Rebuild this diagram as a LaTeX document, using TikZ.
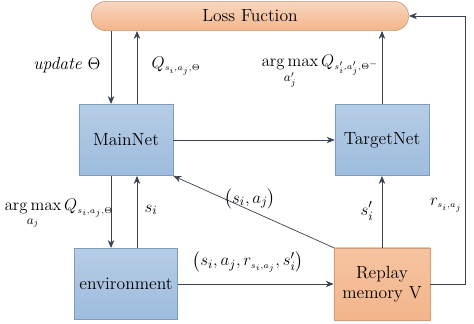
\documentclass[tikz,border=0pt]{standalone}
\usepackage{amsmath}
\usetikzlibrary{arrows.meta, positioning}
\definecolor{netblue}{HTML}{9DBCDD}
\definecolor{netedge}{HTML}{7E9DBE}
\definecolor{memorange}{HTML}{F3B58A}
\definecolor{memedge}{HTML}{D39C76}
\definecolor{linegray}{HTML}{39424E}
\newcommand{\tinysub}[1]{{\scriptscriptstyle #1}}

\begin{document}
\begin{tikzpicture}[
  x=0.025cm, y=-0.025cm,
  font=\fontsize{12.5}{14}\selectfont,
  net/.style={rectangle, draw=netedge, top color=netblue!75, bottom color=netblue, minimum width=2.35cm, minimum height=1.78cm, align=center},
  mem/.style={rectangle, draw=memedge, top color=memorange!80, bottom color=memorange, minimum width=2.4cm, minimum height=1.8cm, align=center},
  loss/.style={rectangle, draw=memedge!80!gray, top color=memorange!55, bottom color=memorange, rounded corners=0.36cm, minimum width=7.93cm, minimum height=0.73cm},
  arrow/.style={-{Stealth[length=2mm, width=1.6mm]}, linegray, line width=0.5pt},
  lab/.style={inner sep=1pt}
]
  \useasboundingbox (0,0) rectangle (474,323);

  % boxes
  \node[loss] (lossfn) at (250,16) {Loss Fuction};
  \node[net] (main) at (126,140) {MainNet};
  \node[net] (target) at (382,140) {TargetNet};
  \node[net] (env) at (126,284) {environment};
  \node[mem] (replay) at (382,284) {Replay\\memory V};

  % helper columns
  \coordinate (xleft) at (111,0);
  \coordinate (xright) at (137,0);
  \coordinate (xloop) at (465,0);

  % arrows
  \draw[arrow] (lossfn.south -| xleft) -- (main.north -| xleft);
  \draw[arrow] (main.north -| xright) -- (lossfn.south -| xright);
  \draw[arrow] (target.north) -- (target.north |- lossfn.south);
  \draw[arrow] (main) -- (target);
  \draw[arrow] (main.south -| xleft) -- (env.north -| xleft);
  \draw[arrow] (env.north -| xright) -- (main.south -| xright);
  \draw[arrow] (replay.north west) -- (main.south east);
  \draw[arrow] (replay.north) -- (target.south);
  \draw[arrow] (env) -- (replay);
  \draw[arrow] (replay.east) -| (xloop |- lossfn.east) -- (lossfn.east);

  % labels
  \node[lab] (lupdate) at (67,65) {\textit{update} $\Theta$};
  \node[lab, anchor=west] (lq) at (150,66) {$Q_{\tinysub{s_i,a_j,\Theta}}$};
  \node[lab, anchor=west] (ltarget) at (260,72) {$\mathop{\arg\max}\limits_{a'_j} Q_{\tinysub{s'_i,a'_j,\Theta^-}}$};
  \node[lab, anchor=west] (lact) at (3,214) {$\mathop{\arg\max}\limits_{a_j} Q_{\tinysub{s_i,a_j,\Theta}}$};
  \node[lab] (lstate) at (151,210) {$s_i$};
  \node[lab] (lpair) at (250,199) {$\bigl(s_i,a_j\bigr)$};
  \node[lab] (lnext) at (367,211) {$s'_i$};
  \node[lab] (lreward) at (446,205) {$r_{\tinysub{s_i,a_j}}$};
  \node[lab] (ltuple) at (248,262) {$\bigl(s_i,a_j,r_{\tinysub{s_i,a_j}},s'_i\bigr)$};
\end{tikzpicture}
\end{document}
